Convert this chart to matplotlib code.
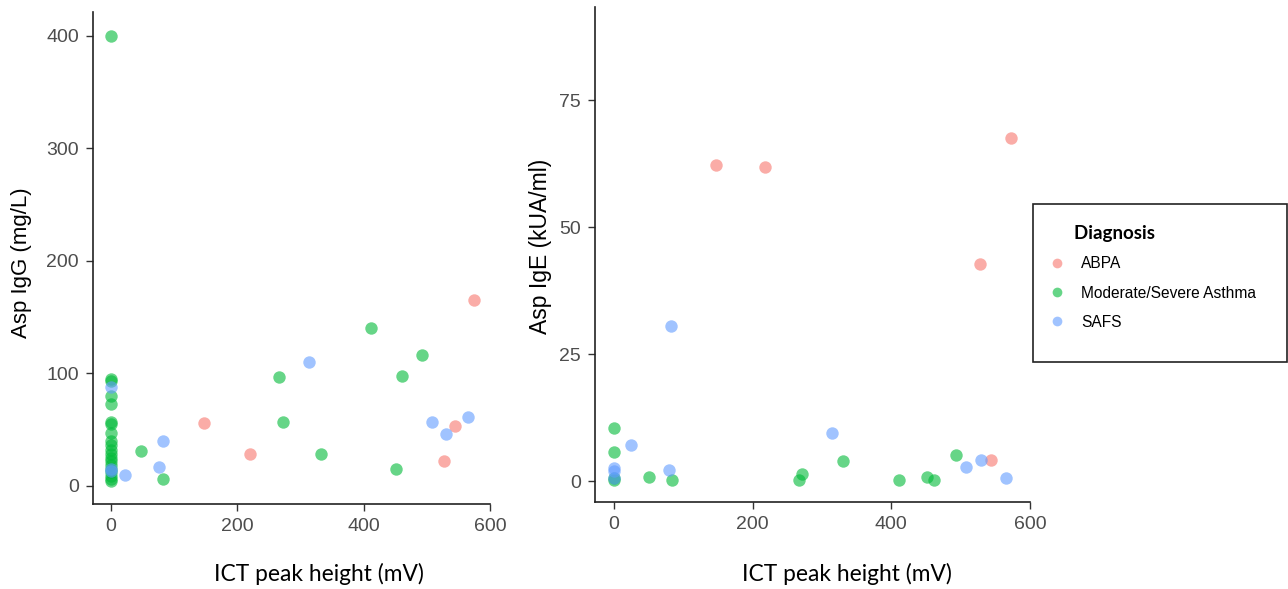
import matplotlib
matplotlib.use("Agg")
import matplotlib.pyplot as plt
from matplotlib.lines import Line2D
from matplotlib.patches import Rectangle

# ICT peak height (mV) vs Asp IgG (mg/L)
abpa_x_igg = [147, 220, 528, 544, 574]
abpa_igg = [56, 28, 22, 53, 165]
asthma_x_igg = [0] * 20 + [48, 83, 267, 272, 332, 412, 451, 461, 493]
asthma_igg = [400, 95, 93, 80, 73, 57, 55, 47, 40, 36, 32, 28, 25, 22, 19, 15, 12, 9, 6, 4,
              31, 6, 97, 57, 28, 140, 15, 98, 116]
safs_x_igg = [0, 0, 0, 22, 77, 83, 314, 508, 531, 565]
safs_igg = [88, 15, 13, 10, 17, 40, 110, 57, 46, 61]

# ICT peak height (mV) vs Asp IgE (kUA/ml)
abpa_x_ige = [148, 218, 528, 544, 572]
abpa_ige = [62.2, 61.8, 42.8, 4.1, 67.5]
asthma_x_ige = [0, 0, 0, 0, 51, 84, 267, 272, 331, 411, 451, 462, 494]
asthma_ige = [10.5, 5.8, 0.5, 0.2, 0.85, 0.2, 0.2, 1.3, 3.9, 0.2, 0.85, 0.2, 5.1]
safs_x_ige = [0, 0, 0, 25, 80, 83, 314, 508, 530, 565]
safs_ige = [2.5, 2.0, 0.5, 7.0, 2.1, 30.6, 9.5, 2.7, 4.1, 0.5]

groups = ["ABPA", "Moderate/Severe Asthma", "SAFS"]
colors = ["#F8766D", "#00BA38", "#619CFF"]

fig = plt.figure(figsize=(12.88, 5.89), dpi=100)
ax1 = fig.add_axes([0.0722, 0.1443, 0.3082, 0.8353])
ax2 = fig.add_axes([0.462, 0.148, 0.3377, 0.840])


def style(ax, xlim, ylim, yticks, ylabel, ysize):
    ax.set_xlim(*xlim)
    ax.set_ylim(*ylim)
    ax.set_xticks([0, 200, 400, 600])
    ax.set_yticks(yticks)
    for s in ["top", "right"]:
        ax.spines[s].set_visible(False)
    for s in ["left", "bottom"]:
        ax.spines[s].set_linewidth(1.2)
        ax.spines[s].set_color("#222222")
    ax.tick_params(length=5, width=1.0, color="#333333", pad=5)
    for lab in ax.get_xticklabels() + ax.get_yticklabels():
        lab.set_fontfamily("Liberation Sans")
        lab.set_fontsize(14)
        lab.set_color("#4d4d4d")
    ax.set_xlabel("ICT peak height (mV)", family="Lato", size=16.4)
    ax.set_ylabel(ylabel, family="Liberation Sans", size=ysize)


kw = dict(s=80, alpha=0.6, linewidths=0)
for xs, ys, c in zip([abpa_x_igg, asthma_x_igg, safs_x_igg],
                     [abpa_igg, asthma_igg, safs_igg], colors):
    ax1.scatter(xs, ys, color=c, **kw)
for xs, ys, c in zip([abpa_x_ige, asthma_x_ige, safs_x_ige],
                     [abpa_ige, asthma_ige, safs_ige], colors):
    ax2.scatter(xs, ys, color=c, **kw)

style(ax1, (-28, 600), (-16, 421), [0, 100, 200, 300, 400], "Asp IgG (mg/L)", 16)
style(ax2, (-27, 600), (-4.1, 93.3), [0, 25, 50, 75], "Asp IgE (kUA/ml)", 16.5)
ax1.xaxis.set_label_coords(0.569, -0.12)
ax2.xaxis.set_label_coords(0.579, -0.124)
ax1.yaxis.set_label_coords(-0.154, 0.49)
ax2.yaxis.set_label_coords(-0.099, 0.517)

# legend box drawn separately so the padding can be uneven like the original
fig.patches.append(Rectangle((0.802, 0.3854), 0.1972, 0.2683, transform=fig.transFigure,
                             facecolor="white", edgecolor="#222222", linewidth=1.2))

handles = [Line2D([], [], marker="o", linestyle="", markersize=7, color=c, alpha=0.6,
                  markeredgewidth=0) for c in colors]
leg = fig.legend(handles, groups, title="      Diagnosis", loc="upper left",
                 bbox_to_anchor=(0.8129, 0.618), frameon=False,
                 borderpad=0, labelspacing=0.92, handletextpad=0.885, handlelength=1.3,
                 borderaxespad=0, prop=dict(family="Liberation Sans", size=11.2))
leg.get_title().set_fontfamily("Lato")
leg.get_title().set_fontweight("bold")
leg.get_title().set_fontsize(13.5)
leg._legend_box.align = "left"

fig.savefig("out.png", dpi=100)
